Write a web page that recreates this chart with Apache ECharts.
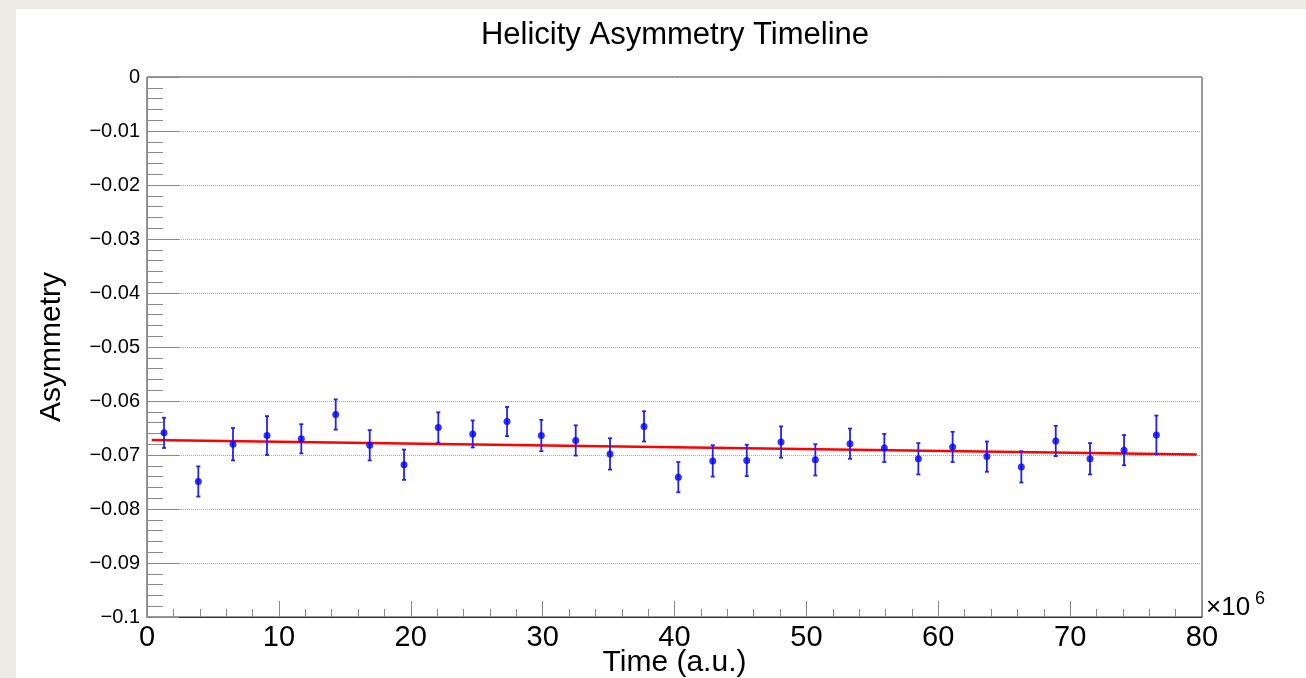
<!DOCTYPE html>
<html>
<head>
<meta charset="utf-8">
<script src="https://cdn.jsdelivr.net/npm/echarts@6/dist/echarts.min.js"></script>
<style>
html,body{margin:0;padding:0;background:#eeebe6;}
#chart{width:1306px;height:678px;}
</style>
</head>
<body>
<div id="chart"></div>
<script>
// Data (time in units of 1e6, asymmetry)
var timeValues = [1.29, 3.89, 6.52, 9.10, 11.70, 14.31, 16.89, 19.49, 22.09, 24.70,
                  27.30, 29.90, 32.51, 35.11, 37.69, 40.29, 42.90, 45.48, 48.08, 50.68,
                  53.31, 55.91, 58.49, 61.09, 63.69, 66.30, 68.91, 71.51, 74.09, 76.54];
var asymValues = [-0.0659, -0.0749, -0.0680, -0.0664, -0.0670, -0.0625, -0.0682, -0.0718, -0.0649, -0.0661,
                  -0.0638, -0.0664, -0.0673, -0.0698, -0.0647, -0.0741, -0.0711, -0.0710, -0.0676, -0.0709,
                  -0.0679, -0.0687, -0.0707, -0.0685, -0.0703, -0.0722, -0.0674, -0.0707, -0.0691, -0.0663];
var asymErrors = [0.0028, 0.0028, 0.0030, 0.0036, 0.0027, 0.0028, 0.0028, 0.0028, 0.0028, 0.0025,
                  0.0027, 0.0029, 0.0028, 0.0029, 0.0028, 0.0028, 0.0029, 0.0029, 0.0029, 0.0029,
                  0.0028, 0.0026, 0.0029, 0.0028, 0.0028, 0.0029, 0.0028, 0.0029, 0.0028, 0.0036];
var fitX = [0.36, 79.6];
var fitY = [-0.0672, -0.0699];
var xTickLabels = ['0', '10', '20', '30', '40', '50', '60', '70', '80'];
var yTickLabels = ['0', '\u22120.01', '\u22120.02', '\u22120.03', '\u22120.04', '\u22120.05',
                   '\u22120.06', '\u22120.07', '\u22120.08', '\u22120.09', '\u22120.1'];

var FONT = '"Liberation Sans", Arial, Helvetica, sans-serif';

var points = timeValues.map(function (x, i) { return [x, asymValues[i]]; });
var errData = timeValues.map(function (x, i) { return [x, asymValues[i], asymErrors[i]]; });
var fitData = fitX.map(function (x, i) { return [x, fitY[i]]; });

var chart = echarts.init(document.getElementById('chart'), null, {renderer: 'canvas'});
var option = {
  backgroundColor: '#eeebe6',
  animation: false,
  title: {
    text: 'Helicity Asymmetry Timeline',
    left: 675, top: 20, textAlign: 'center', padding: 0,
    textStyle: {fontFamily: FONT, fontSize: 31, fontWeight: 'normal', color: '#000'}
  },
  graphic: [
    {type: 'rect', z: -10, silent: true, shape: {x: 16, y: 9, width: 1290, height: 669}, style: {fill: '#ffffff'}},
    {type: 'text', z: 10, left: 1206, top: 595, style: {text: '\u00d710', font: '26px ' + FONT, fill: '#000'}},
    {type: 'text', z: 10, left: 1255, top: 590, style: {text: '6', font: '18px ' + FONT, fill: '#000'}}
  ],
  grid: {
    left: 147, top: 77, width: 1055, height: 540,
    outerBoundsMode: 'none', containLabel: false,
    show: true, borderColor: '#333', borderWidth: 1, backgroundColor: 'transparent'
  },
  xAxis: {
    type: 'value', min: 0, max: 80, interval: 10,
    name: 'Time (a.u.)', nameLocation: 'middle', nameGap: 31, nameMoveOverlap: false,
    nameTextStyle: {fontFamily: FONT, fontSize: 30, color: '#000', verticalAlign: 'top'},
    axisLine: {show: true, onZero: false, lineStyle: {color: '#333', width: 1}},
    axisTick: {show: true, inside: true, length: 16, lineStyle: {color: '#888', width: 1}},
    minorTick: {show: true, splitNumber: 5, length: 8, lineStyle: {color: '#888', width: 1}},
    splitLine: {show: false},
    axisLabel: {
      margin: 6, fontFamily: FONT, fontSize: 29, color: '#000',
      formatter: function (v) { return xTickLabels[Math.round(v / 10)]; }
    }
  },
  yAxis: {
    type: 'value', min: -0.1, max: 0, interval: 0.01,
    name: 'Asymmetry', nameLocation: 'middle', nameGap: 80, nameMoveOverlap: false,
    nameTextStyle: {fontFamily: FONT, fontSize: 30, color: '#000'},
    axisLine: {show: true, onZero: false, lineStyle: {color: '#888', width: 1}},
    axisTick: {show: true, inside: true, length: 32, lineStyle: {color: '#888', width: 1}},
    minorTick: {show: true, splitNumber: 5, length: 16, lineStyle: {color: '#888', width: 1}},
    splitLine: {show: true, lineStyle: {color: '#aaa', type: [1, 1], width: 1}},
    axisLabel: {
      margin: 7, fontFamily: FONT, fontSize: 20, color: '#000',
      formatter: function (v) { return yTickLabels[Math.round(-v * 100)]; }
    }
  },
  series: [
    {
      type: 'line', data: fitData, showSymbol: false, symbol: 'none',
      lineStyle: {color: '#ff0000', width: 2.5}, z: 2, silent: true
    },
    {
      type: 'custom', data: errData, z: 3, silent: true,
      renderItem: function (params, api) {
        var x = api.value(0), y = api.value(1), e = api.value(2);
        var top = api.coord([x, y + e]);
        var bot = api.coord([x, y - e]);
        var cw = 2;
        var st = {stroke: '#2020ff', lineWidth: 1.8};
        return {
          type: 'group',
          children: [
            {type: 'line', shape: {x1: top[0], y1: top[1], x2: bot[0], y2: bot[1]}, style: st},
            {type: 'line', shape: {x1: top[0] - cw, y1: top[1], x2: top[0] + cw, y2: top[1]}, style: st},
            {type: 'line', shape: {x1: bot[0] - cw, y1: bot[1], x2: bot[0] + cw, y2: bot[1]}, style: st}
          ]
        };
      },
      encode: {x: 0, y: 1}
    },
    {
      type: 'scatter', data: points, symbol: 'circle', symbolSize: 7,
      itemStyle: {color: '#0000ff'}, z: 4, silent: true
    }
  ]
};
chart.setOption(option);
</script>
</body>
</html>
